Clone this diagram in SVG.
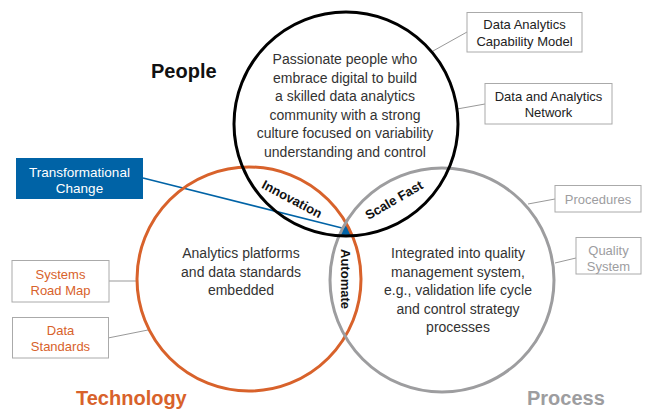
<svg xmlns="http://www.w3.org/2000/svg" width="649" height="409" viewBox="0 0 649 409">
<style>
text{font-family:"Liberation Sans",Arial,sans-serif}
.body{font-size:14px;fill:#333;text-anchor:middle}
.lab{font-size:13px;font-weight:bold;fill:#111;text-anchor:middle}
.title{font-size:20px;font-weight:bold}
.box{fill:#fff;stroke:#aaa;stroke-width:1}
.bt{font-size:13px;text-anchor:middle}
.conn{stroke:#999;stroke-width:1;fill:none}
</style>
<defs>
<clipPath id="cg"><circle cx="442" cy="280" r="112"/></clipPath>
<clipPath id="co"><circle cx="249" cy="279" r="112"/></clipPath>
<clipPath id="cb"><circle cx="346" cy="124" r="112"/></clipPath>
</defs>
<rect width="649" height="409" fill="#fff"/>

<g id="overlap-fill" clip-path="url(#cg)"><g clip-path="url(#co)"><rect x="300" y="200" width="100" height="60" fill="#0063A6" clip-path="url(#cb)"/></g></g>

<g id="connectors">
<line class="conn" x1="467" y1="32" x2="433" y2="51"/>
<line class="conn" x1="485" y1="104" x2="457" y2="109"/>
<line class="conn" x1="555" y1="199" x2="528" y2="204"/>
<line class="conn" x1="576" y1="258" x2="555" y2="263"/>
<line class="conn" x1="109" y1="281" x2="137" y2="281"/>
<line class="conn" x1="108" y1="338" x2="148" y2="330"/>
<line x1="143" y1="178" x2="342" y2="228" stroke="#0063A6" stroke-width="1.5"/>
</g>

<g id="technology">
<circle cx="249" cy="279" r="112" fill="none" stroke="#D8622B" stroke-width="3"/>
<text class="body" x="241" y="258">Analytics platforms</text>
<text class="body" x="241" y="276.6">and data standards</text>
<text class="body" x="241" y="295.2">embedded</text>
<text class="title" x="76" y="405" fill="#D8622B">Technology</text>
</g>

<g id="process">
<circle cx="442" cy="280" r="112" fill="none" stroke="#9D9D9F" stroke-width="3"/>
<text class="body" x="458" y="258">Integrated into quality</text>
<text class="body" x="458" y="276.6">management system,</text>
<text class="body" x="458" y="295.2">e.g., validation life cycle</text>
<text class="body" x="458" y="313.8">and control strategy</text>
<text class="body" x="458" y="332.4">processes</text>
<text class="title" x="527" y="405" fill="#9D9D9F">Process</text>
</g>

<g id="people">
<circle cx="346" cy="124" r="112" fill="none" stroke="#000" stroke-width="3"/>
<text class="body" x="345" y="64">Passionate people who</text>
<text class="body" x="345" y="82.6">embrace digital to build</text>
<text class="body" x="345" y="101.2">a skilled data analytics</text>
<text class="body" x="345" y="119.8">community with a strong</text>
<text class="body" x="345" y="138.4">culture focused on variability</text>
<text class="body" x="345" y="157">understanding and control</text>
<text class="title" x="151" y="78" fill="#111">People</text>
</g>

<g id="innovation"><text class="lab" transform="translate(292,199) rotate(28)" dy="4.5">Innovation</text></g>
<g id="scale-fast"><text class="lab" transform="translate(394,200) rotate(-30)" dy="4.5">Scale Fast</text></g>
<g id="automate"><text class="lab" transform="translate(345,279) rotate(90)" dy="4.5">Automate</text></g>

<g id="transformational-change">
<rect x="16" y="158" width="127" height="41" fill="#0063A6"/>
<text class="bt" x="79.5" y="177" fill="#fff" style="font-size:13.5px">Transformational</text>
<text class="bt" x="79.5" y="192.5" fill="#fff" style="font-size:13.5px">Change</text>
</g>

<g id="capability-model">
<rect class="box" x="467" y="12.5" width="115" height="39.5"/>
<text class="bt" x="524.5" y="29" fill="#222">Data Analytics</text>
<text class="bt" x="524.5" y="46" fill="#222">Capability Model</text>
</g>

<g id="network">
<rect class="box" x="485" y="83.5" width="127" height="40.5"/>
<text class="bt" x="548.5" y="101" fill="#222">Data and Analytics</text>
<text class="bt" x="548.5" y="117" fill="#222">Network</text>
</g>

<g id="procedures">
<rect class="box" x="555" y="185.5" width="86" height="26.5"/>
<text class="bt" x="598" y="204" fill="#9D9D9F">Procedures</text>
</g>

<g id="quality-system">
<rect class="box" x="576" y="237.5" width="65" height="36.5"/>
<text class="bt" x="608.5" y="255" fill="#9D9D9F">Quality</text>
<text class="bt" x="608.5" y="271" fill="#9D9D9F">System</text>
</g>

<g id="road-map">
<rect class="box" x="12" y="260.5" width="97" height="41.5"/>
<text class="bt" x="60.5" y="279" fill="#D8622B">Systems</text>
<text class="bt" x="60.5" y="295" fill="#D8622B">Road Map</text>
</g>

<g id="data-standards">
<rect class="box" x="12.5" y="317.5" width="96" height="40.5"/>
<text class="bt" x="60.5" y="335" fill="#D8622B">Data</text>
<text class="bt" x="60.5" y="351" fill="#D8622B">Standards</text>
</g>
</svg>
